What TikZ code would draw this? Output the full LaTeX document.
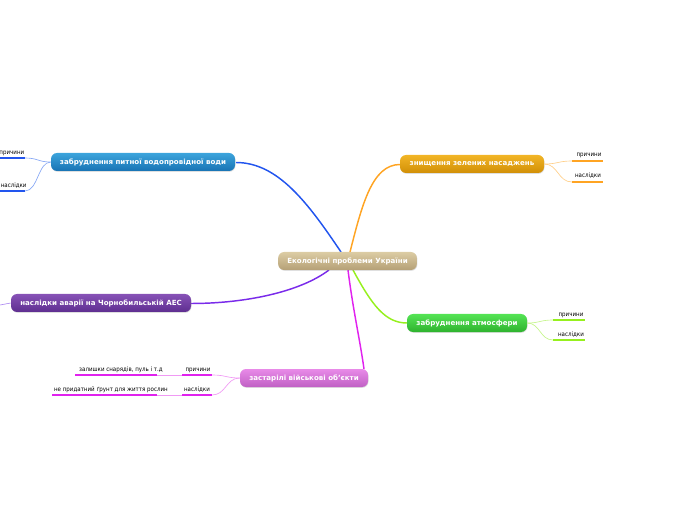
\documentclass[tikz,border=0pt]{standalone}
\usepackage{fontspec}
\setmainfont{DejaVu Sans}
\newfontfamily\condfont{DejaVu Sans Condensed}
\usetikzlibrary{shadows}
\definecolor{cBlue}{HTML}{2255EE}
\definecolor{cBlueL}{HTML}{88A8F4}
\definecolor{cOrange}{HTML}{FFA423}
\definecolor{cOrangeL}{HTML}{FFCF8A}
\definecolor{cPurple}{HTML}{7A2BEA}
\definecolor{cPurpleL}{HTML}{B08EF2}
\definecolor{cGreen}{HTML}{96F01E}
\definecolor{cGreenL}{HTML}{C6F58C}
\definecolor{cMag}{HTML}{E022EE}
\definecolor{cMagL}{HTML}{F09AF4}
\definecolor{tanTop}{HTML}{DCCCA4}
\definecolor{tanBot}{HTML}{B5A076}
\definecolor{blueTop}{HTML}{3CA4DC}
\definecolor{blueBot}{HTML}{1873B4}
\definecolor{orTop}{HTML}{F2B526}
\definecolor{orBot}{HTML}{D18F06}
\definecolor{puTop}{HTML}{8752B6}
\definecolor{puBot}{HTML}{5E2E90}
\definecolor{grTop}{HTML}{54E454}
\definecolor{grBot}{HTML}{2EB22E}
\definecolor{maTop}{HTML}{E88AE8}
\definecolor{maBot}{HTML}{C060C4}
\tikzset{
  topic/.style={rounded corners=4.5pt, minimum height=13.5pt, inner sep=0pt,
     text=white, font=\fontsize{5.3}{6}\selectfont\bfseries,
     drop shadow={shadow xshift=0.4pt, shadow yshift=-0.6pt, opacity=0.25}},
  mainline/.style={line width=1.1pt},
  subline/.style={line width=0.5pt},
  uline/.style={line width=1.1pt},
  lbl/.style={inner sep=0pt, font=\condfont\fontsize{4.6}{5}\selectfont, anchor=base}
}
\begin{document}
\begin{tikzpicture}[x=0.75pt,y=-0.75pt]
\useasboundingbox (0,0) rectangle (696,520);

% main connectors
\coordinate (cb) at (341,252);
\coordinate (co) at (350,252);
\coordinate (cp) at (329,270);
\coordinate (cm) at (348,270);
\coordinate (cg) at (353,270);
\coordinate (be) at (236,162.5);
\coordinate (ow) at (400,164.5);
\coordinate (pe) at (191,303.5);
\coordinate (gw) at (407,323);
\coordinate (me) at (364,369);

\draw[mainline, cBlue] (cb) .. controls (308,203) and (278,162.5) .. (be);
\draw[mainline, cOrange] (co) .. controls (362,205) and (372,164.5) .. (ow);
\draw[mainline, cPurple] (cp) .. controls (300,292) and (245,303.5) .. (pe);
\draw[mainline, cGreen] (cg) .. controls (372,305) and (385,323) .. (gw);
\draw[mainline, cMag] (cm) .. controls (353,310) and (360,340) .. (me);

% topic nodes
\node[topic, minimum width=104pt, top color=tanTop, bottom color=tanBot] (c) at (347.5,261) {Екологічні проблеми України};
\node[topic, minimum width=138pt, top color=blueTop, bottom color=blueBot] (b) at (143,162) {забруднення питної водопровідної води};
\node[topic, minimum width=108pt, top color=orTop, bottom color=orBot] (o) at (472,164) {знищення зелених насаджень};
\node[topic, minimum width=135pt, top color=puTop, bottom color=puBot] (p) at (101,303) {наслідки аварії на Чорнобильській АЕС};
\node[topic, minimum width=90pt, top color=grTop, bottom color=grBot] (g) at (467,323) {забруднення атмосфери};
\node[topic, minimum width=96pt, top color=maTop, bottom color=maBot] (m) at (304,378) {застарілі військові об'єкти};

% --- blue children
\coordinate (b1s) at (0,158); \coordinate (b1e) at (25,158);
\coordinate (b2s) at (0,191); \coordinate (b2e) at (25,191);
\draw[uline, cBlue] (b1s) -- (b1e);
\draw[uline, cBlue] (b2s) -- (b2e);
\draw[subline, cBlueL] (b.west) .. controls (38,162) and (38,158) .. (b1e);
\draw[subline, cBlueL] (b.west) .. controls (38,162) and (38,191) .. (b2e);
\node[lbl, anchor=base east] (b1) at (24.5,155) {причини};
\node[lbl, anchor=base west] (b2) at (0.5,188) {наслідки};

% --- orange children
\coordinate (o1s) at (572,161); \coordinate (o1e) at (603,161);
\coordinate (o2s) at (572,182); \coordinate (o2e) at (603,182);
\draw[uline, cOrange] (o1s) -- (o1e);
\draw[uline, cOrange] (o2s) -- (o2e);
\draw[subline, cOrangeL] (o.east) .. controls (558,164) and (558,161) .. (o1s);
\draw[subline, cOrangeL] (o.east) .. controls (558,164) and (558,182) .. (o2s);
\node[lbl] (o1) at (589,157) {причини};
\node[lbl] (o2) at (588,178) {наслідки};

% --- green children
\coordinate (g1s) at (553,320); \coordinate (g1e) at (585,320);
\coordinate (g2s) at (553,340); \coordinate (g2e) at (585,340);
\draw[uline, cGreen] (g1s) -- (g1e);
\draw[uline, cGreen] (g2s) -- (g2e);
\draw[subline, cGreenL] (g.east) .. controls (540,323) and (540,320) .. (g1s);
\draw[subline, cGreenL] (g.east) .. controls (540,323) and (540,340) .. (g2s);
\node[lbl] (g1) at (571,316) {причини};
\node[lbl] (g2) at (571,336) {наслідки};

% --- purple stub
\coordinate (pstub) at (0,305);
\draw[subline, cPurpleL] (p.west) -- (pstub);

% --- magenta children
\coordinate (m1s) at (182,375); \coordinate (m1e) at (212,375);
\coordinate (m2s) at (182,395); \coordinate (m2e) at (212,395);
\coordinate (m3s) at (75,375); \coordinate (m3e) at (157,375);
\coordinate (m4s) at (52,395); \coordinate (m4e) at (157,395);
\draw[uline, cMag] (m1s) -- (m1e);
\draw[uline, cMag] (m2s) -- (m2e);
\draw[uline, cMag] (m3s) -- (m3e);
\draw[uline, cMag] (m4s) -- (m4e);
\draw[subline, cMagL] (m.west) .. controls (226,378) and (226,375) .. (m1e);
\draw[subline, cMagL] (m.west) .. controls (226,378) and (226,395) .. (m2e);
\draw[subline, cMagL] (m1s) -- (m3e);
\draw[subline, cMagL] (m2s) -- (m4e);
\node[lbl] (m1) at (198,371) {причини};
\node[lbl] (m2) at (197,391) {наслідки};
\node[lbl] (m3) at (121,371) {залишки снарядів, пуль і т.д};
\node[lbl] (m4) at (111,391) {не придатний ґрунт для життя рослин};
\end{tikzpicture}
\end{document}
